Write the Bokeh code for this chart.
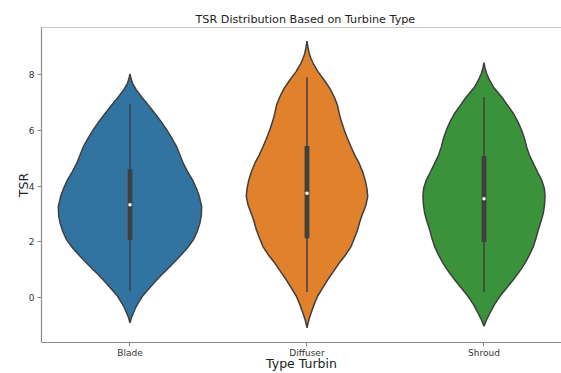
from bokeh.plotting import figure
from bokeh.models import ColumnDataSource, FixedTicker, Span
from bokeh.embed import file_html
from bokeh.resources import INLINE

# Turbine categories and their fill colours
turbine_types = ["Blade", "Diffuser", "Shroud"]
fill_colors = ["#3274a1", "#e1812c", "#3a923a"]

# Kernel density outlines: TSR level and half-width of the violin at that level
blade_tsr = [8.02, 7.85, 7.67, 7.45, 7.19, 6.90, 6.60, 6.30, 6.00, 5.70, 5.40, 5.10,
             4.81, 4.50, 4.21, 3.90, 3.62, 3.26, 2.95, 2.67, 2.37, 2.07, 1.78, 1.48,
             1.18, 0.88, 0.58, 0.29, 0.05, -0.19, -0.37, -0.55, -0.72, -0.90]
blade_density = [0.0, 0.006, 0.015, 0.035, 0.066, 0.103, 0.141, 0.177, 0.209, 0.238,
                 0.264, 0.283, 0.301, 0.327, 0.354, 0.376, 0.392, 0.405, 0.403, 0.395,
                 0.380, 0.358, 0.324, 0.282, 0.236, 0.188, 0.143, 0.103, 0.070, 0.047,
                 0.031, 0.019, 0.008, 0.0]

diffuser_tsr = [9.19, 8.95, 8.74, 8.56, 8.38, 8.10, 7.79, 7.49, 7.19, 6.90, 6.60, 6.30,
                6.00, 5.70, 5.40, 5.10, 4.81, 4.51, 4.21, 3.90, 3.62, 3.32, 3.02, 2.73,
                2.43, 2.13, 1.83, 1.53, 1.24, 0.94, 0.64, 0.34, 0.05, -0.25, -0.55,
                -0.80, -1.08]
diffuser_density = [0.0, 0.006, 0.013, 0.023, 0.036, 0.062, 0.098, 0.130, 0.154, 0.172,
                    0.182, 0.195, 0.211, 0.229, 0.249, 0.271, 0.295, 0.314, 0.329, 0.339,
                    0.343, 0.333, 0.315, 0.299, 0.286, 0.268, 0.249, 0.218, 0.182, 0.150,
                    0.117, 0.088, 0.060, 0.040, 0.023, 0.010, 0.0]

shroud_tsr = [8.42, 8.23, 8.03, 7.80, 7.55, 7.19, 6.90, 6.60, 6.30, 6.00, 5.70, 5.40,
              5.10, 4.81, 4.51, 4.21, 3.92, 3.62, 3.32, 3.02, 2.73, 2.43, 2.13, 1.83,
              1.53, 1.24, 0.94, 0.64, 0.34, 0.05, -0.25, -0.55, -0.80, -1.02]
shroud_density = [0.0, 0.006, 0.015, 0.031, 0.053, 0.100, 0.133, 0.166, 0.192, 0.213,
                  0.229, 0.241, 0.257, 0.279, 0.302, 0.326, 0.341, 0.345, 0.342, 0.335,
                  0.322, 0.307, 0.294, 0.279, 0.257, 0.232, 0.201, 0.166, 0.127, 0.090,
                  0.059, 0.034, 0.014, 0.0]

# Inner box summary per turbine type
whisker_low = [0.23, 0.20, 0.20]
q1 = [2.07, 2.13, 1.99]
median = [3.33, 3.74, 3.54]
q3 = [4.60, 5.43, 5.08]
whisker_high = [6.93, 7.90, 7.19]

y_ticks = [0, 2, 4, 6, 8]

FONT = "DejaVu Sans"
EDGE = "#3f3f3f"
SPINE = "#8a8a8a"
Y_LO, Y_HI = -1.607, 9.68

p = figure(width=561, height=373, x_range=(-0.5, 2.438), y_range=(Y_LO, Y_HI),
           output_backend="svg", toolbar_location=None,
           min_border_left=41, min_border_right=0, min_border_top=27, min_border_bottom=30)

p.title.text = "TSR Distribution Based on Turbine Type"
p.title.align = "left"
p.title.offset = 154
p.title.text_font = FONT
p.title.text_font_size = "11.2px"
p.title.text_font_style = "normal"
p.title.text_color = "#222222"
p.title.standoff = 4

p.outline_line_color = None
p.xgrid.visible = False
p.ygrid.visible = False
p.background_fill_color = "white"
p.border_fill_color = "white"

# violin bodies
outlines = [(blade_tsr, blade_density), (diffuser_tsr, diffuser_density),
            (shroud_tsr, shroud_density)]
xs, ys = [], []
for i, (levels, dens) in enumerate(outlines):
    right = [i + d for d in dens]
    left = [i - d for d in reversed(dens)]
    xs.append(right + left)
    ys.append(list(levels) + list(reversed(levels)))

violins = ColumnDataSource(dict(xs=xs, ys=ys, color=fill_colors))
p.patches("xs", "ys", source=violins, fill_color="color", fill_alpha=1.0,
          line_color=EDGE, line_width=1.5)

# inner box plot
pos = list(range(len(turbine_types)))
boxes = ColumnDataSource(dict(x=pos, lo=whisker_low, q1=q1, med=median, q3=q3, hi=whisker_high))
p.segment(x0="x", y0="lo", x1="x", y1="hi", source=boxes, line_color=EDGE, line_width=1.5)
p.vbar(x="x", bottom="q1", top="q3", width=0.027, source=boxes,
       fill_color=EDGE, line_color=None)
p.scatter(x="x", y="med", source=boxes, size=3.5, marker="circle",
          fill_color="white", line_color=None)

# top spine
p.add_layout(Span(location=Y_HI, dimension="width", line_color=SPINE, line_width=1.2))

p.xaxis.ticker = FixedTicker(ticks=pos)
p.xaxis.major_label_overrides = {i: t for i, t in enumerate(turbine_types)}
p.yaxis.ticker = FixedTicker(ticks=y_ticks)
p.xaxis.axis_label = "Type Turbin"
p.yaxis.axis_label = "TSR"

for ax in (p.xaxis[0], p.yaxis[0]):
    ax.axis_line_color = SPINE
    ax.axis_line_width = 1.2
    ax.major_tick_line_color = SPINE
    ax.major_tick_out = 4
    ax.major_tick_in = 0
    ax.minor_tick_line_color = None
    ax.major_label_text_font = FONT
    ax.major_label_text_font_size = "9px"
    ax.major_label_text_color = "#333333"
    ax.axis_label_text_font = FONT
    ax.axis_label_text_font_size = "12.5px"
    ax.axis_label_text_font_style = "normal"
    ax.axis_label_text_color = "#222222"

p.xaxis.major_label_standoff = 1
p.xaxis.axis_label_standoff = -5
p.yaxis.major_label_standoff = 3
p.yaxis.axis_label_standoff = -5

open("out.html", "w").write(file_html(p, INLINE))
